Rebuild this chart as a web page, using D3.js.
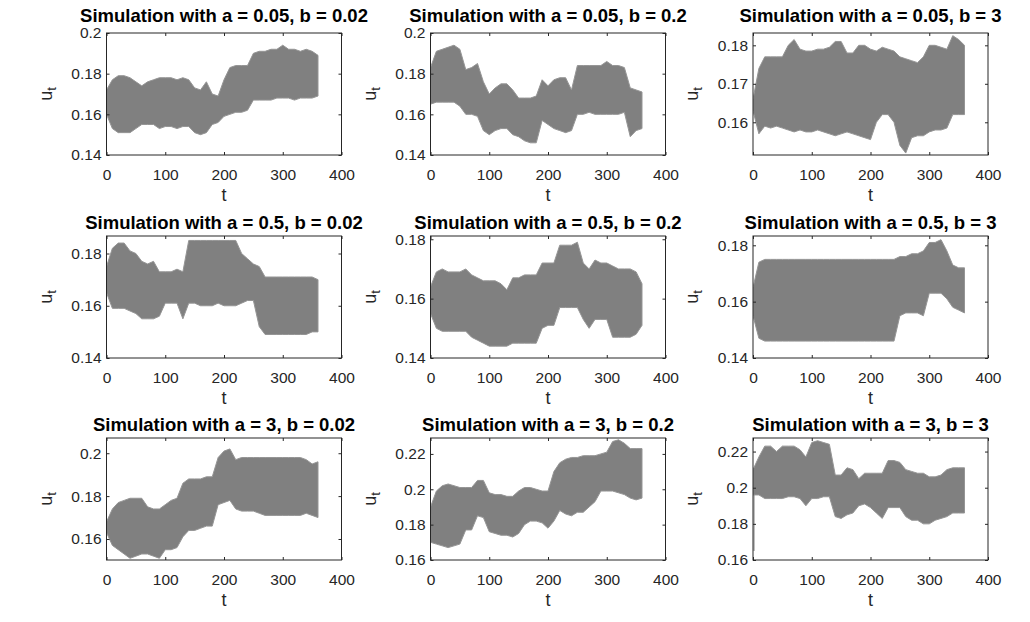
<!DOCTYPE html>
<html lang="en">
<head>
<meta charset="UTF-8">
<title>Simulations</title>
<script src="https://cdn.jsdelivr.net/npm/d3@7"></script>
<style>
  body { margin: 0; background: #fff; }
  text { font-family: "Liberation Sans", Arial, Helvetica, sans-serif; }
</style>
</head>
<body>
<div id="chart"></div>
<script>
// sample times (envelope read every 10 time units)
const tSteps = [0, 10, 20, 30, 40, 50, 60, 70, 80, 90, 100, 110, 120, 130, 140, 150, 160, 170, 180,
    190, 200, 210, 220, 230, 240, 250, 260, 270, 280, 290, 300, 310, 320, 330, 340, 350, 360];

const aValues = ["0.05", "0.5", "3"];
const bValues = ["0.02", "0.2", "3"];
const xTicks = [0, 100, 200, 300, 400];

// upper / lower edge of the simulated band, one pair per panel
const hi_a005_b002 = [0.172, 0.177, 0.179, 0.179, 0.178, 0.176, 0.174, 0.176, 0.177, 0.178, 0.178, 0.178, 0.177, 0.178, 0.177, 0.173, 0.172, 0.176, 0.170,
    0.169, 0.177, 0.183, 0.184, 0.184, 0.184, 0.190, 0.191, 0.191, 0.192, 0.192, 0.194, 0.192, 0.192, 0.191, 0.192, 0.191, 0.189];
const lo_a005_b002 = [0.160, 0.153, 0.151, 0.151, 0.151, 0.153, 0.155, 0.155, 0.155, 0.153, 0.154, 0.154, 0.153, 0.154, 0.154, 0.151, 0.150, 0.151, 0.155,
    0.156, 0.159, 0.160, 0.161, 0.161, 0.162, 0.167, 0.167, 0.167, 0.167, 0.168, 0.168, 0.168, 0.167, 0.168, 0.168, 0.168, 0.169];

const hi_a005_b02 = [0.183, 0.191, 0.192, 0.193, 0.194, 0.192, 0.182, 0.183, 0.185, 0.176, 0.170, 0.173, 0.175, 0.175, 0.172, 0.168, 0.168, 0.168, 0.169,
    0.177, 0.174, 0.177, 0.178, 0.178, 0.172, 0.184, 0.184, 0.184, 0.184, 0.184, 0.186, 0.184, 0.184, 0.183, 0.173, 0.172, 0.171];
const lo_a005_b02 = [0.165, 0.166, 0.166, 0.166, 0.166, 0.164, 0.160, 0.160, 0.159, 0.152, 0.150, 0.152, 0.153, 0.153, 0.150, 0.149, 0.147, 0.146, 0.146,
    0.157, 0.155, 0.153, 0.152, 0.151, 0.152, 0.160, 0.160, 0.161, 0.160, 0.160, 0.160, 0.160, 0.160, 0.161, 0.149, 0.152, 0.153];

const hi_a005_b3 = [0.1660, 0.1740, 0.1770, 0.1770, 0.1770, 0.1770, 0.1800, 0.1815, 0.1790, 0.1785, 0.1785, 0.1790, 0.1790, 0.1795, 0.1810, 0.1810, 0.1780, 0.1780, 0.1800,
    0.1800, 0.1790, 0.1785, 0.1795, 0.1790, 0.1785, 0.1770, 0.1765, 0.1760, 0.1755, 0.1770, 0.1800, 0.1800, 0.1795, 0.1790, 0.1825, 0.1815, 0.1800];
const lo_a005_b3 = [0.1630, 0.1570, 0.1590, 0.1585, 0.1590, 0.1585, 0.1580, 0.1575, 0.1580, 0.1575, 0.1575, 0.1580, 0.1575, 0.1570, 0.1565, 0.1570, 0.1575, 0.1570, 0.1565,
    0.1560, 0.1555, 0.1600, 0.1620, 0.1620, 0.1600, 0.1540, 0.1520, 0.1560, 0.1565, 0.1565, 0.1575, 0.1580, 0.1580, 0.1585, 0.1620, 0.1620, 0.1620];

const hi_a05_b002 = [0.175, 0.182, 0.184, 0.184, 0.181, 0.180, 0.177, 0.176, 0.177, 0.173, 0.173, 0.173, 0.174, 0.173, 0.185, 0.185, 0.185, 0.185, 0.185,
    0.185, 0.185, 0.185, 0.185, 0.180, 0.178, 0.176, 0.175, 0.171, 0.171, 0.171, 0.171, 0.171, 0.171, 0.171, 0.171, 0.171, 0.170];
const lo_a05_b002 = [0.165, 0.159, 0.159, 0.159, 0.158, 0.157, 0.155, 0.155, 0.155, 0.156, 0.161, 0.161, 0.161, 0.155, 0.161, 0.161, 0.160, 0.160, 0.160,
    0.161, 0.160, 0.160, 0.160, 0.161, 0.162, 0.162, 0.152, 0.149, 0.149, 0.149, 0.149, 0.149, 0.149, 0.149, 0.149, 0.150, 0.150];

const hi_a05_b02 = [0.164, 0.169, 0.170, 0.169, 0.169, 0.169, 0.170, 0.168, 0.167, 0.166, 0.166, 0.166, 0.165, 0.163, 0.167, 0.167, 0.168, 0.168, 0.168,
    0.172, 0.172, 0.172, 0.178, 0.178, 0.178, 0.179, 0.172, 0.170, 0.173, 0.172, 0.172, 0.171, 0.170, 0.170, 0.170, 0.169, 0.165];
const lo_a05_b02 = [0.155, 0.150, 0.149, 0.149, 0.149, 0.149, 0.149, 0.147, 0.146, 0.145, 0.144, 0.144, 0.144, 0.144, 0.145, 0.145, 0.145, 0.145, 0.145,
    0.150, 0.151, 0.151, 0.157, 0.157, 0.157, 0.157, 0.153, 0.150, 0.153, 0.153, 0.153, 0.147, 0.147, 0.147, 0.147, 0.148, 0.151];

const hi_a05_b3 = [0.165, 0.174, 0.175, 0.175, 0.175, 0.175, 0.175, 0.175, 0.175, 0.175, 0.175, 0.175, 0.175, 0.175, 0.175, 0.175, 0.175, 0.175, 0.175,
    0.175, 0.175, 0.175, 0.175, 0.175, 0.175, 0.176, 0.176, 0.177, 0.177, 0.178, 0.181, 0.181, 0.182, 0.178, 0.173, 0.172, 0.172];
const lo_a05_b3 = [0.155, 0.147, 0.146, 0.146, 0.146, 0.146, 0.146, 0.146, 0.146, 0.146, 0.146, 0.146, 0.146, 0.146, 0.146, 0.146, 0.146, 0.146, 0.146,
    0.146, 0.146, 0.146, 0.146, 0.146, 0.146, 0.155, 0.156, 0.156, 0.156, 0.155, 0.163, 0.163, 0.163, 0.161, 0.158, 0.157, 0.156];

const hi_a3_b002 = [0.168, 0.174, 0.177, 0.178, 0.179, 0.179, 0.179, 0.175, 0.174, 0.174, 0.176, 0.178, 0.179, 0.186, 0.188, 0.188, 0.188, 0.189, 0.189,
    0.198, 0.201, 0.202, 0.197, 0.198, 0.198, 0.198, 0.198, 0.198, 0.198, 0.198, 0.198, 0.198, 0.198, 0.198, 0.197, 0.195, 0.196];
const lo_a3_b002 = [0.163, 0.157, 0.155, 0.153, 0.151, 0.152, 0.153, 0.153, 0.152, 0.151, 0.155, 0.155, 0.156, 0.161, 0.164, 0.164, 0.165, 0.166, 0.166,
    0.176, 0.177, 0.178, 0.174, 0.173, 0.173, 0.173, 0.172, 0.171, 0.171, 0.171, 0.171, 0.171, 0.171, 0.171, 0.172, 0.171, 0.170];

const hi_a3_b02 = [0.190, 0.199, 0.202, 0.203, 0.202, 0.201, 0.201, 0.201, 0.205, 0.205, 0.198, 0.197, 0.197, 0.196, 0.196, 0.199, 0.201, 0.201, 0.200,
    0.199, 0.199, 0.210, 0.215, 0.217, 0.218, 0.218, 0.219, 0.219, 0.219, 0.220, 0.221, 0.227, 0.228, 0.226, 0.223, 0.223, 0.223];
const lo_a3_b02 = [0.170, 0.169, 0.168, 0.167, 0.168, 0.169, 0.177, 0.177, 0.185, 0.184, 0.176, 0.175, 0.174, 0.174, 0.173, 0.175, 0.180, 0.182, 0.182,
    0.181, 0.178, 0.182, 0.188, 0.186, 0.185, 0.187, 0.187, 0.190, 0.193, 0.199, 0.199, 0.199, 0.198, 0.197, 0.195, 0.194, 0.195];

const hi_a3_b3 = [0.210, 0.217, 0.223, 0.223, 0.220, 0.223, 0.223, 0.223, 0.221, 0.217, 0.225, 0.226, 0.225, 0.224, 0.207, 0.207, 0.211, 0.210, 0.205,
    0.208, 0.208, 0.208, 0.208, 0.215, 0.215, 0.214, 0.210, 0.209, 0.208, 0.208, 0.206, 0.206, 0.207, 0.210, 0.211, 0.211, 0.211];
const lo_a3_b3 = [0.196, 0.196, 0.194, 0.194, 0.194, 0.194, 0.195, 0.195, 0.194, 0.190, 0.194, 0.194, 0.195, 0.195, 0.184, 0.183, 0.185, 0.186, 0.190,
    0.191, 0.189, 0.186, 0.183, 0.189, 0.189, 0.189, 0.184, 0.182, 0.182, 0.180, 0.180, 0.182, 0.183, 0.184, 0.186, 0.186, 0.186];
// the a = 3, b = 3 run starts from this value before it jumps into the band
const start_a3_b3 = 0.165;

const upperEdges = [hi_a005_b002, hi_a005_b02, hi_a005_b3, hi_a05_b002, hi_a05_b02, hi_a05_b3, hi_a3_b002, hi_a3_b02, hi_a3_b3];
const lowerEdges = [lo_a005_b002, lo_a005_b02, lo_a005_b3, lo_a05_b002, lo_a05_b02, lo_a05_b3, lo_a3_b002, lo_a3_b02, lo_a3_b3];

const yTicks = [
    [0.14, 0.16, 0.18, 0.2], [0.14, 0.16, 0.18, 0.2], [0.16, 0.17, 0.18],
    [0.14, 0.16, 0.18], [0.14, 0.16, 0.18], [0.14, 0.16, 0.18],
    [0.16, 0.18, 0.2], [0.16, 0.18, 0.2, 0.22], [0.16, 0.18, 0.2, 0.22]
];
const yLimits = [
    [0.14, 0.2], [0.14, 0.2], [0.1515, 0.1832],
    [0.14, 0.1867], [0.14, 0.1811], [0.14, 0.1833],
    [0.1502, 0.2071], [0.16, 0.229], [0.16, 0.2275]
];

// layout
const W = 1030, H = 622;
const colLeft = [106.5, 430.5, 753], boxW = 235;
const rowTop = [33, 236, 438], boxH = 122;
const titleGap = [11, 7, 7];
const axisColor = "#262626";

const svg = d3.select("#chart").append("svg")
    .attr("width", W)
    .attr("height", H)
    .style("background", "#fff");

svg.append("defs").selectAll("clipPath")
    .data(d3.range(9))
    .enter().append("clipPath")
    .attr("id", d => "clip" + d)
    .append("rect")
    .attr("width", boxW)
    .attr("height", boxH);

for (let i = 0; i < 9; i++) {
    const row = Math.floor(i / 3), col = i % 3;
    const g = svg.append("g")
        .attr("transform", "translate(" + colLeft[col] + "," + rowTop[row] + ")");

    const x = d3.scaleLinear().domain([0, 400]).range([0, boxW]);
    const y = d3.scaleLinear().domain(yLimits[i]).range([boxH, 0]);

    const pts = tSteps.map((t, k) => ({t: t, lo: lowerEdges[i][k], hi: upperEdges[i][k]}));
    const area = d3.area()
        .x(d => x(d.t))
        .y0(d => y(d.lo))
        .y1(d => y(d.hi));

    const plot = g.append("g").attr("clip-path", "url(#clip" + i + ")");
    plot.append("path")
        .datum(pts)
        .attr("d", area)
        .attr("fill", "#808080")
        .attr("stroke", "#959595")
        .attr("stroke-width", 1);

    if (i === 8) {
        plot.append("line")
            .attr("x1", x(0) + 1).attr("x2", x(0) + 1)
            .attr("y1", y(start_a3_b3)).attr("y2", y(lowerEdges[i][0]))
            .attr("stroke", "#808080")
            .attr("stroke-width", 1);
    }

    // axes, ticks pointing inwards on all four sides
    const xb = g.append("g").attr("transform", "translate(0," + boxH + ")")
        .call(d3.axisBottom(x).tickValues(xTicks).tickSizeInner(-3).tickSizeOuter(0).tickPadding(14));
    const xt = g.append("g")
        .call(d3.axisTop(x).tickValues(xTicks).tickSizeInner(-3).tickSizeOuter(0).tickFormat(""));
    const yl = g.append("g")
        .call(d3.axisLeft(y).tickValues(yTicks[i]).tickSizeInner(-3).tickSizeOuter(0).tickPadding(5)
            .tickFormat(d3.format("")));
    const yr = g.append("g").attr("transform", "translate(" + boxW + ",0)")
        .call(d3.axisRight(y).tickValues(yTicks[i]).tickSizeInner(-3).tickSizeOuter(0).tickFormat(""));

    [xb, xt, yl, yr].forEach(a => {
        a.select(".domain").remove();
        a.selectAll(".tick line").attr("stroke", axisColor);
        a.selectAll(".tick text")
            .attr("fill", axisColor)
            .style("font-size", "15.5px");
    });

    g.append("rect")
        .attr("width", boxW)
        .attr("height", boxH)
        .attr("fill", "none")
        .attr("stroke", axisColor)
        .attr("stroke-width", 1);

    g.append("text")
        .attr("x", boxW / 2)
        .attr("y", -titleGap[row])
        .attr("text-anchor", "middle")
        .style("font-size", "18.5px")
        .style("font-weight", "bold")
        .attr("fill", "#000")
        .text("Simulation with a = " + aValues[row] + ", b = " + bValues[col]);

    g.append("text")
        .attr("x", boxW / 2)
        .attr("y", boxH + 46)
        .attr("text-anchor", "middle")
        .style("font-size", "18px")
        .attr("fill", axisColor)
        .text("t");

    const yLab = g.append("text")
        .attr("transform", "translate(-55," + (boxH / 2) + ") rotate(-90)")
        .attr("text-anchor", "middle")
        .style("font-size", "18px")
        .attr("fill", axisColor);
    yLab.append("tspan").text("u");
    yLab.append("tspan").attr("dy", 4).style("font-size", "13px").text("t");
}
</script>
</body>
</html>
